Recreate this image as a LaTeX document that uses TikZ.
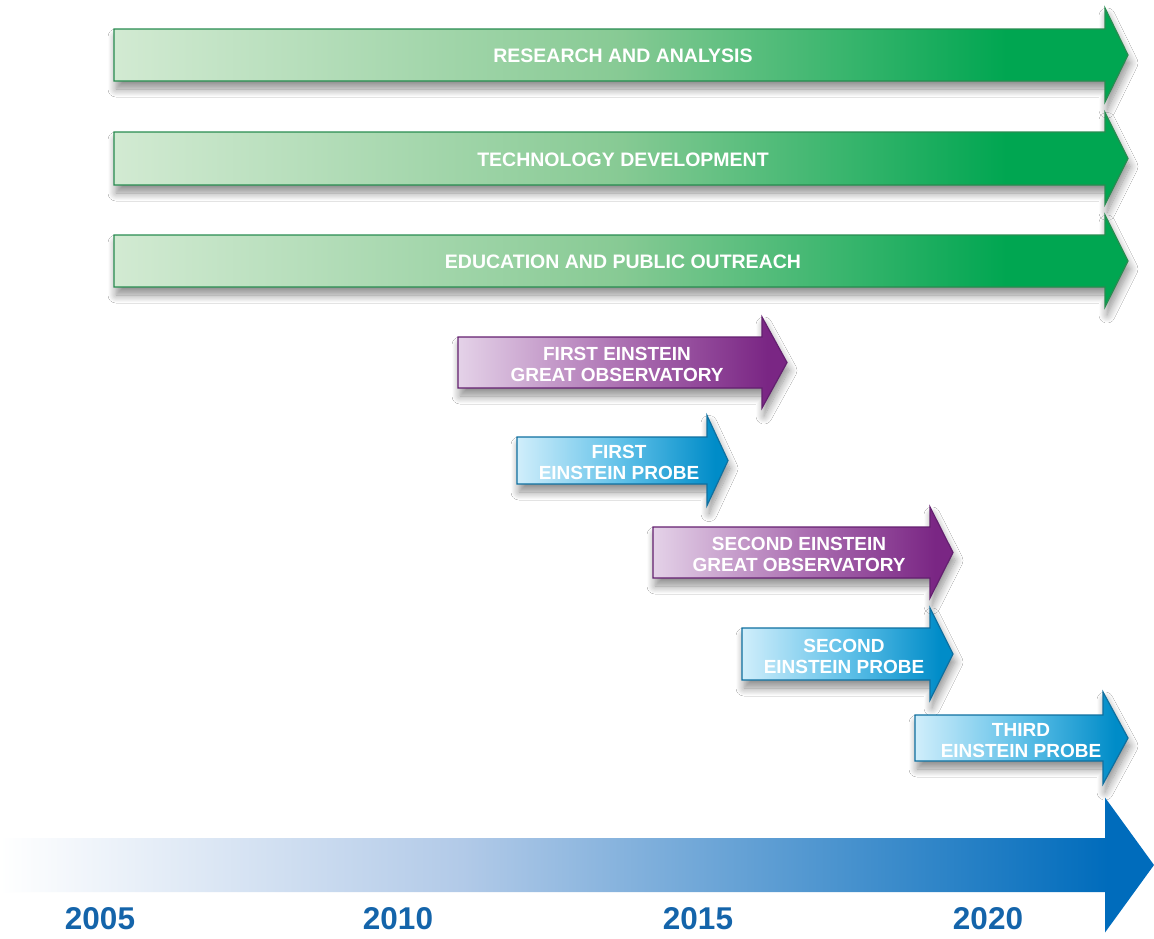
\documentclass[tikz,border=0pt]{standalone}
\usepackage{fontspec}
\setmainfont{Liberation Sans}
\usepackage{tikz}
\usetikzlibrary{shadows.blur}
\definecolor{glight}{RGB}{210,234,210}
\definecolor{gmid}{RGB}{135,202,148}
\definecolor{gdark}{RGB}{0,166,81}
\definecolor{gline}{RGB}{40,140,80}
\definecolor{plight}{RGB}{228,210,232}
\definecolor{pmid}{RGB}{172,112,178}
\definecolor{pdark}{RGB}{122,38,132}
\definecolor{pline}{RGB}{100,32,112}
\definecolor{blight}{RGB}{208,238,251}
\definecolor{bmid}{RGB}{95,192,232}
\definecolor{bdark}{RGB}{0,140,200}
\definecolor{bline}{RGB}{15,112,160}
\definecolor{tlight}{RGB}{178,202,232}
\definecolor{tdark}{RGB}{0,108,188}
\definecolor{yrblue}{RGB}{20,100,170}
\pgfdeclarehorizontalshading{greenfade}{100bp}{color(0bp)=(glight); color(25bp)=(glight);
  color(50bp)=(gmid); color(69bp)=(gdark); color(100bp)=(gdark)}
\pgfdeclarehorizontalshading{purplefade}{100bp}{color(0bp)=(plight); color(25bp)=(plight);
  color(50bp)=(pmid); color(72bp)=(pdark); color(100bp)=(pdark)}
\pgfdeclarehorizontalshading{bluefade}{100bp}{color(0bp)=(blight); color(25bp)=(blight);
  color(50bp)=(bmid); color(72bp)=(bdark); color(100bp)=(bdark)}
\pgfdeclarehorizontalshading{timefade}{100bp}{color(0bp)=(white); color(25bp)=(white);
  color(45bp)=(tlight); color(73bp)=(tdark); color(100bp)=(tdark)}
\tikzset{
  shdw/.style={blur shadow={shadow xshift=2pt,shadow yshift=-8pt,
               shadow blur radius=8pt,shadow opacity=45,shadow blur steps=12}},
  garr/.style={shdw,shading=greenfade,draw=gline,line width=1.2pt},
  parr/.style={shdw,shading=purplefade,draw=pline,line width=1.2pt},
  barr/.style={shdw,shading=bluefade,draw=bline,line width=1.2pt},
  tarr/.style={shading=timefade},
  lbl/.style={text=white,align=center,inner sep=0pt,
              font=\bfseries\fontsize{19}{21.5}\selectfont},
  glbl/.style={lbl,font=\bfseries\fontsize{19.5}{22}\selectfont},
  yr/.style={text=yrblue,inner sep=0pt,font=\bfseries\fontsize{31.5}{34}\selectfont},
}
% style, left, head start, tip, centre y, half body, half head
\newcommand{\tlarrow}[7]{%
  \path[#1] (#2,#5-#6) -- (#3,#5-#6) -- (#3,#5-#7) -- (#4,#5)
    -- (#3,#5+#7) -- (#3,#5+#6) -- (#2,#5+#6) -- cycle;}
\begin{document}
\begin{tikzpicture}[x=1pt,y=-1pt]
\useasboundingbox[fill=white] (0,0) rectangle (1154,938);
% Ongoing programs
\tlarrow{garr}{114}{1105}{1128}{55}{26}{47}
\tlarrow{garr}{114}{1105}{1128}{158.5}{26.5}{46}
\tlarrow{garr}{114}{1105}{1128}{261}{26}{46}
\node[glbl] (research) at (623,56) {RESEARCH AND ANALYSIS};
\node[glbl] (techdev) at (623,159.5) {TECHNOLOGY DEVELOPMENT};
\node[glbl] (outreach) at (623,262) {EDUCATION AND PUBLIC OUTREACH};
% Missions
\tlarrow{parr}{458}{762}{787}{362.5}{25.5}{45.5}
\node[lbl] (obs1) at (617,364.5) {FIRST EINSTEIN\\GREAT OBSERVATORY};
\tlarrow{barr}{517}{707}{728}{460.5}{23.5}{45}
\node[lbl] (probe1) at (619,462.5) {FIRST\\EINSTEIN PROBE};
\tlarrow{parr}{653}{930}{953}{552.5}{25.5}{45.5}
\node[lbl] (obs2) at (799,554.5) {SECOND EINSTEIN\\GREAT OBSERVATORY};
\tlarrow{barr}{742}{930}{953}{654}{26}{46}
\node[lbl] (probe2) at (844,656.5) {SECOND\\EINSTEIN PROBE};
\tlarrow{barr}{915}{1103}{1128}{738}{23}{46}
\node[lbl] (probe3) at (1021,740.5) {THIRD\\EINSTEIN PROBE};
% Time axis
\tlarrow{tarr}{0}{1105}{1154}{865}{27}{67.5}
\node[yr] (y2005) at (100,919) {2005};
\node[yr] (y2010) at (398,919) {2010};
\node[yr] (y2015) at (698,919) {2015};
\node[yr] (y2020) at (988,919) {2020};
\end{tikzpicture}
\end{document}
